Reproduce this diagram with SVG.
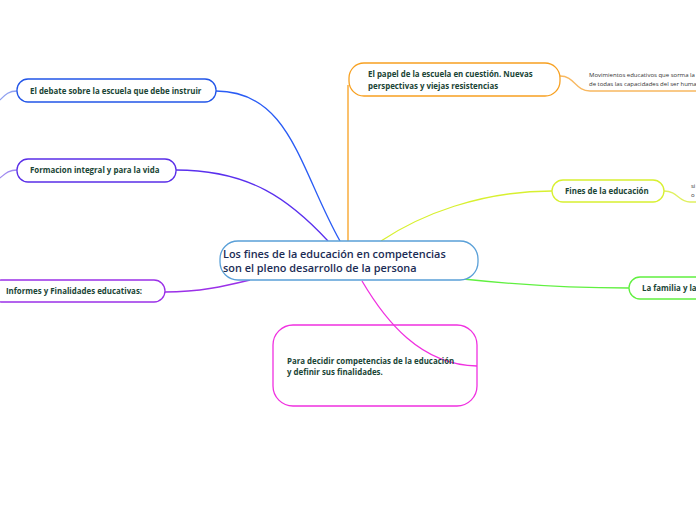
<svg xmlns="http://www.w3.org/2000/svg" width="696" height="520" viewBox="0 0 696 520">
<style>
.lbl{font-family:"Open Sans","Noto Sans","Liberation Sans",sans-serif;font-weight:700;font-size:7.9px;fill:#1a4536}
.ctr{font-family:"Open Sans","Noto Sans","Liberation Sans",sans-serif;font-weight:600;font-size:10.9px;fill:#1b2c55}
.sm{font-family:"Open Sans","Noto Sans","Liberation Sans",sans-serif;font-size:6px;fill:#333}
.c{fill:none;stroke-width:1.3}
.n{fill:#fff;stroke-width:1.3}
</style>
<rect width="696" height="520" fill="#fff"/>
<g id="connectors">
<path class="c" stroke="#2a5cf5" d="M216,91 C290,91 300,170 340,241"/>
<path class="c" stroke="#5a30ee" d="M176,170 C250,170 290,200 328,241"/>
<path class="c" stroke="#9b30e8" d="M165,292 C200,292 225,286 250,280"/>
<path class="c" stroke="#f7a020" d="M348,241 L348,85"/>
<path class="c" stroke="#d8f030" d="M381,241 C420,215 480,191 552,191"/>
<path class="c" stroke="#60f040" d="M463,279 C520,285 580,288 629,288"/>
<path class="c" stroke="#8fa0f0" d="M17,91 C8,91 5,95 0,100"/>
<path class="c" stroke="#a08af0" d="M17,170 C8,170 5,174 0,178"/>
<path class="c" stroke="#f8b860" d="M560,76 C575,76 575,91 590,91 L696,91"/>
<path class="c" stroke="#e0f060" d="M664,191 C678,191 678,202 690,202 L696,202"/>
</g>
<g id="center">
<rect class="n" x="220" y="241" width="258" height="39" rx="18" stroke="#5aa0d8"/>
<text class="ctr" x="223" y="258">Los fines de la educación en competencias</text>
<text class="ctr" x="223" y="272">son el pleno desarrollo de la persona</text>
</g>
<g id="n1">
<rect class="n" x="17" y="79" width="199" height="23" rx="11" stroke="#2255e8"/>
<text class="lbl" x="30" y="94">El debate sobre la escuela que debe instruir</text>
</g>
<g id="n2">
<rect class="n" x="17" y="159" width="159" height="23" rx="11" stroke="#5a2ee8"/>
<text class="lbl" x="30" y="173">Formacion integral y para la vida</text>
</g>
<g id="n3">
<rect class="n" x="-10" y="280" width="175" height="22" rx="11" stroke="#9b30e8"/>
<text class="lbl" x="6" y="294">Informes y Finalidades educativas:</text>
</g>
<g id="n4">
<rect class="n" x="349" y="63" width="211" height="33" rx="15" stroke="#f7a020"/>
<text class="lbl" x="368" y="77">El papel de la escuela en cuestión. Nuevas</text>
<text class="lbl" x="368" y="89">perspectivas y viejas resistencias</text>
<text class="sm" x="589" y="77">Movimientos educativos que sorma la</text>
<text class="sm" x="589" y="86">de todas las capacidades del ser huma</text>
</g>
<g id="n5">
<rect class="n" x="552" y="180" width="112" height="22" rx="11" stroke="#d8f030"/>
<text class="lbl" x="565" y="194">Fines de la educación</text>
<text class="sm" x="691" y="188">si</text>
<text class="sm" x="691" y="197">o</text>
</g>
<g id="n6">
<rect class="n" x="629" y="277" width="90" height="22" rx="11" stroke="#60f040"/>
<text class="lbl" x="642" y="291">La familia y la</text>
</g>
<g id="n7">
<rect x="273" y="325" width="204" height="81" rx="20" fill="none" stroke="#f030e0" stroke-width="1.3"/>
<path class="c" stroke="#f030e0" d="M362,281 C385,320 420,365 477,366"/>
<text class="lbl" x="287" y="364">Para decidir competencias de la educación</text>
<text class="lbl" x="287" y="375">y definir sus finalidades.</text>
</g>
</svg>
